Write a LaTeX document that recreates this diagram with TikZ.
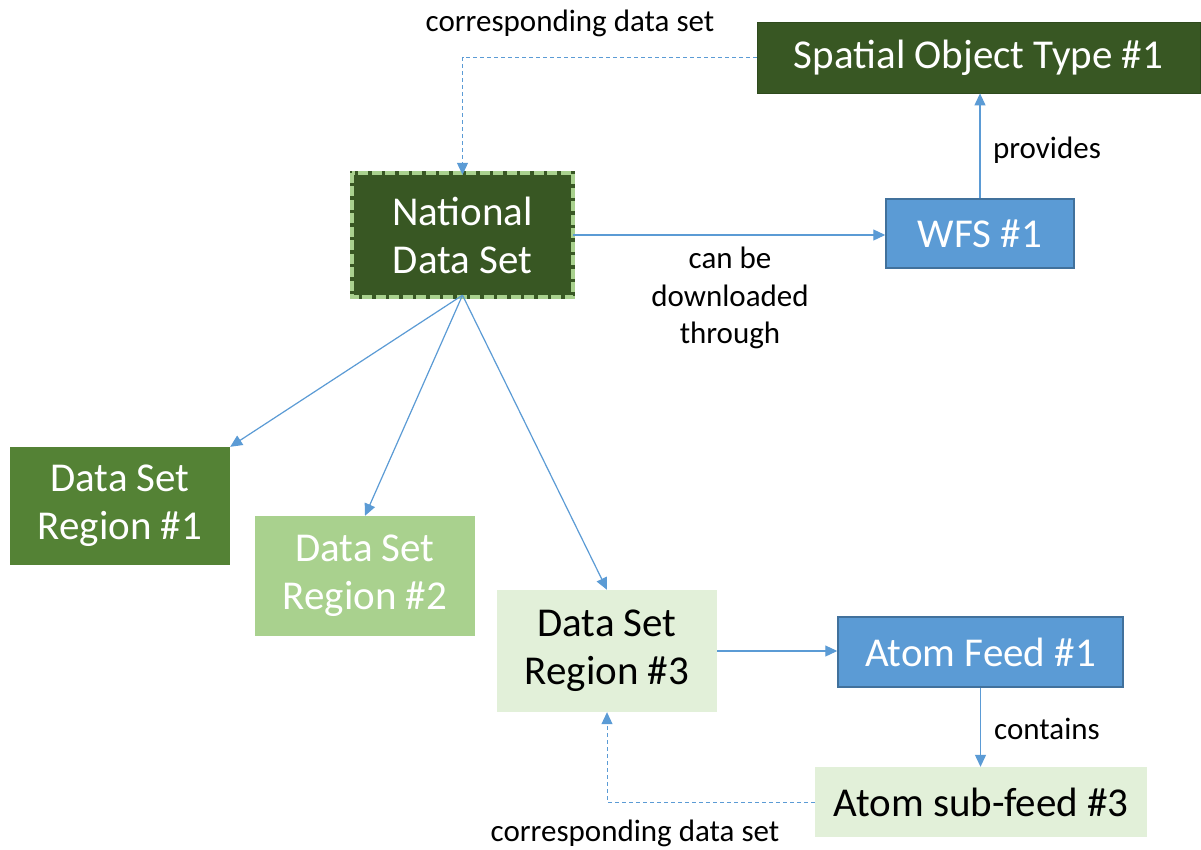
\documentclass[tikz,border=0pt]{standalone}
\usepackage{fontspec}
\setmainfont{Carlito}
\usetikzlibrary{arrows.meta}
\definecolor{dkgreen}{HTML}{385723}
\definecolor{dkgreenline}{HTML}{2E4A1D}
\definecolor{midgreen}{HTML}{548235}
\definecolor{ltgreen}{HTML}{A9D18E}
\definecolor{paleGreen}{HTML}{E2F0D9}
\definecolor{blueFill}{HTML}{5B9BD5}
\definecolor{blueLine}{HTML}{41719C}
\definecolor{arrowBlue}{HTML}{5B9BD5}
\begin{document}
\begin{tikzpicture}[x=1pt,y=-1pt,
  box/.style={inner sep=0pt, align=center, font=\fontsize{41}{48}\selectfont},
  darkbox/.style={box, fill=dkgreen, draw=dkgreenline, line width=0.8pt, text=white},
  bluebox/.style={box, fill=blueFill, draw=blueLine, line width=1.5pt, text=white},
  conn/.style={draw=arrowBlue, line width=1.2pt, -{Triangle[length=12pt,width=11pt]}},
  dconn/.style={conn, dash pattern=on 4pt off 3pt, line width=1pt},
  lbl/.style={font=\fontsize{31}{37.5}\selectfont, align=center, inner sep=0pt, text=black}]
\useasboundingbox (0,0) rectangle (1201,849);
\fill[white] (0,0) rectangle (1201,849);

% nodes
\node[darkbox, minimum width=443pt, minimum height=71pt] (sot) at (978.5,57.5) {Spatial Object Type \#1};
\node[box, fill=dkgreen, text=white, minimum width=221pt, minimum height=124pt] (nds) at (462.5,235) {National\\Data Set};
\draw[dkgreen, line width=4pt] (nds.north west) rectangle (nds.south east);
\draw[ltgreen, line width=4pt, dash pattern=on 10pt off 3.5pt] (nds.north west) rectangle (nds.south east);
\node[bluebox, minimum width=188pt, minimum height=69pt] (wfs) at (980,233.5) {WFS \#1};
\node[box, fill=midgreen, text=white, minimum width=220pt, minimum height=118pt] (r1) at (120,506) {Data Set\\Region \#1};
\node[box, fill=ltgreen, text=white, minimum width=220pt, minimum height=120pt] (r2) at (365,576) {Data Set\\Region \#2};
\node[box, fill=paleGreen, text=black, minimum width=220pt, minimum height=122pt] (r3) at (607,651) {Data Set\\Region \#3};
\node[bluebox, minimum width=285pt, minimum height=70pt] (af) at (980.5,652) {Atom Feed \#1};
\node[box, fill=paleGreen, text=black, minimum width=332pt, minimum height=70pt] (asf) at (981,802) {Atom sub-feed \#3};

% labels
\node[lbl] (l1) at (570,23) {corresponding data set};
\node[lbl] (l2) at (730,298) {can be\\downloaded\\through};
\node[lbl] (l3) at (1047,150) {provides};
\node[lbl] (l4) at (1047,729) {contains};
\node[lbl] (l5) at (635,833) {corresponding data set};

% connectors
\draw[conn] (nds.east) -- (nds.east -| wfs.west);
\draw[conn] (wfs.north) -- (wfs.north |- sot.south);
\draw[conn] (r3.east) -- (r3.east -| af.west);
\draw[conn] (af.south) -- (af.south |- asf.north);
\draw[dconn] (sot.west) -| ([yshift=-2pt]nds.north);
\draw[dconn] (asf.west) -| (r3.south);
\draw[conn] ([yshift=2pt]nds.south) -- (r1.north east);
\draw[conn] ([yshift=2pt]nds.south) -- (r2.north);
\draw[conn] ([yshift=2pt]nds.south) -- (r3.north);
\end{tikzpicture}
\end{document}
